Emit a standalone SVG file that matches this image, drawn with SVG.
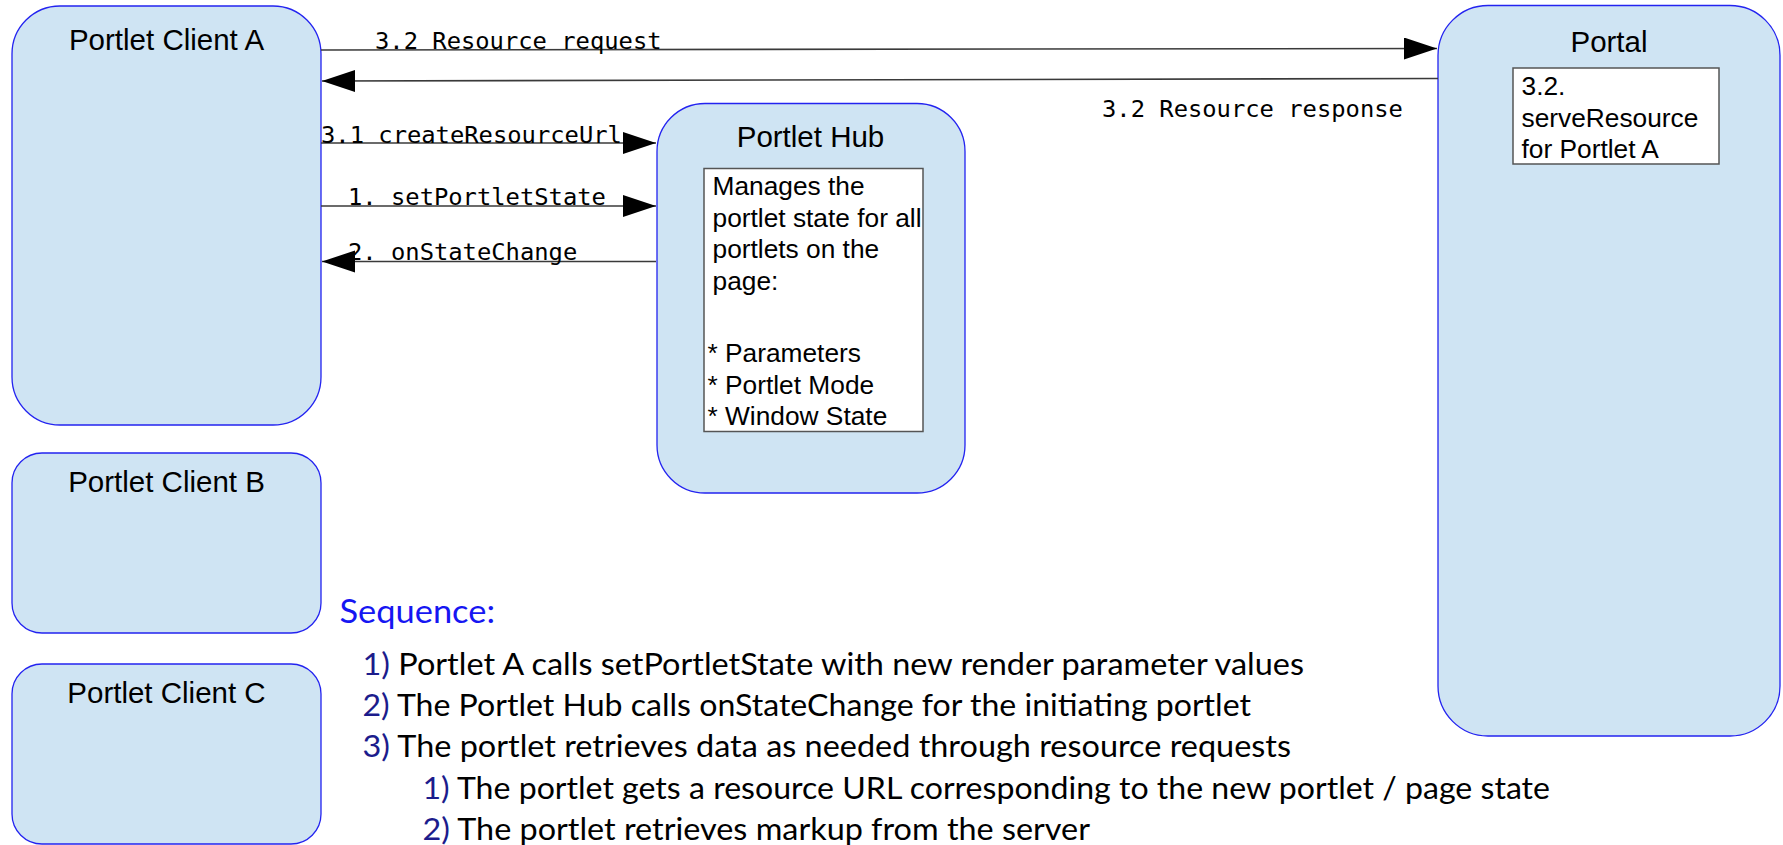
<svg xmlns="http://www.w3.org/2000/svg" width="1783" height="845" viewBox="0 0 1783 845">
  <defs>
    <style>
      .node { fill: #cfe4f3; stroke: #2323f0; stroke-width: 1.3; }
      .inner { fill: #ffffff; stroke: #555555; stroke-width: 1.5; }
      .title { font-family: "Liberation Sans", Arial, sans-serif; font-size: 29.5px; fill: #000; text-anchor: middle; }
      .body { font-family: "Liberation Sans", Arial, sans-serif; font-size: 26.3px; fill: #000; }
      .conn { stroke: #3a3a3a; stroke-width: 1.6; fill: none; }
      .lbl { font-family: "DejaVu Sans Mono", "Liberation Mono", monospace; font-size: 23.8px; fill: #000; }
      .seq { font-family: Lato, "Open Sans", sans-serif; font-size: 30.5px; fill: #000; }
      .num { fill: #1c1c8c; }
      .head { font-family: Lato, "Open Sans", sans-serif; font-size: 32px; fill: #1616f2; }
    </style>
    <marker id="arrow" markerUnits="userSpaceOnUse" markerWidth="34" markerHeight="24" refX="33" refY="11" orient="auto">
      <path d="M0,0 L33,11 L0,22 z" fill="#000"/>
    </marker>
  </defs>

  <rect width="1783" height="845" fill="#ffffff"/>

  <!-- Portlet clients -->
  <g id="client-a">
    <rect class="node" x="12" y="6" width="309" height="419" rx="48" ry="48"/>
    <text class="title" x="166.5" y="50">Portlet Client A</text>
  </g>
  <g id="client-b">
    <rect class="node" x="12" y="453" width="309" height="180" rx="30" ry="30"/>
    <text class="title" x="166.5" y="492">Portlet Client B</text>
  </g>
  <g id="client-c">
    <rect class="node" x="12" y="664" width="309" height="180" rx="30" ry="30"/>
    <text class="title" x="166.5" y="703">Portlet Client C</text>
  </g>

  <!-- Portlet hub -->
  <g id="portlet-hub">
    <rect class="node" x="657" y="103.5" width="308" height="389.5" rx="48" ry="48"/>
    <text class="title" x="810.5" y="146.5">Portlet Hub</text>
    <rect class="inner" x="704" y="168.5" width="219" height="263"/>
    <text class="body">
      <tspan x="712.5" y="195">Manages the</tspan>
      <tspan x="712.5" y="226.5">portlet state for all</tspan>
      <tspan x="712.5" y="258">portlets on the</tspan>
      <tspan x="712.5" y="289.5">page:</tspan>
      <tspan x="707.5" y="362">* Parameters</tspan>
      <tspan x="707.5" y="393.5">* Portlet Mode</tspan>
      <tspan x="707.5" y="425">* Window State</tspan>
    </text>
  </g>

  <!-- Portal -->
  <g id="portal">
    <rect class="node" x="1438" y="5.5" width="342" height="730.5" rx="50" ry="50"/>
    <text class="title" x="1609" y="51.5">Portal</text>
    <rect class="inner" x="1513" y="68" width="206" height="96"/>
    <text class="body">
      <tspan x="1521.5" y="95">3.2.</tspan>
      <tspan x="1521.5" y="126.5">serveResource</tspan>
      <tspan x="1521.5" y="157.5">for Portlet A</tspan>
    </text>
  </g>

  <!-- Connectors -->
  <g id="connectors">
    <line class="conn" x1="321" y1="50" x2="1437" y2="48.5" marker-end="url(#arrow)"/>
    <line class="conn" x1="1438" y1="78.5" x2="322" y2="81" marker-end="url(#arrow)"/>
    <line class="conn" x1="321" y1="143" x2="656" y2="143" marker-end="url(#arrow)"/>
    <line class="conn" x1="321" y1="206" x2="656" y2="206" marker-end="url(#arrow)"/>
    <line class="conn" x1="656" y1="261.5" x2="322" y2="261.5" marker-end="url(#arrow)"/>
    <text class="lbl" x="375" y="48.5">3.2 Resource request</text>
    <text class="lbl" x="1102" y="116.5">3.2 Resource response</text>
    <text class="lbl" x="321" y="143">3.1 createResourceUrl</text>
    <text class="lbl" x="348" y="205">1. setPortletState</text>
    <text class="lbl" x="348" y="260">2. onStateChange</text>
  </g>

  <!-- Sequence notes -->
  <g id="sequence">
    <text class="head" x="339.5" y="622.5" textLength="155.5" lengthAdjust="spacingAndGlyphs">Sequence:</text>
    <text class="seq" x="362.5" y="674.5" textLength="941.5" lengthAdjust="spacingAndGlyphs"><tspan class="num">1)</tspan> Portlet A calls setPortletState with new render parameter values</text>
    <text class="seq" x="362.5" y="716" textLength="888.5" lengthAdjust="spacingAndGlyphs"><tspan class="num">2)</tspan> The Portlet Hub calls onStateChange for the initiating portlet</text>
    <text class="seq" x="362.5" y="757" textLength="928.5" lengthAdjust="spacingAndGlyphs"><tspan class="num">3)</tspan> The portlet retrieves data as needed through resource requests</text>
    <text class="seq" x="422.5" y="798.5" textLength="1127.5" lengthAdjust="spacingAndGlyphs"><tspan class="num">1)</tspan> The portlet gets a resource URL corresponding to the new portlet / page state</text>
    <text class="seq" x="422.5" y="839.5" textLength="667.5" lengthAdjust="spacingAndGlyphs"><tspan class="num">2)</tspan> The portlet retrieves markup from the server</text>
  </g>
</svg>
